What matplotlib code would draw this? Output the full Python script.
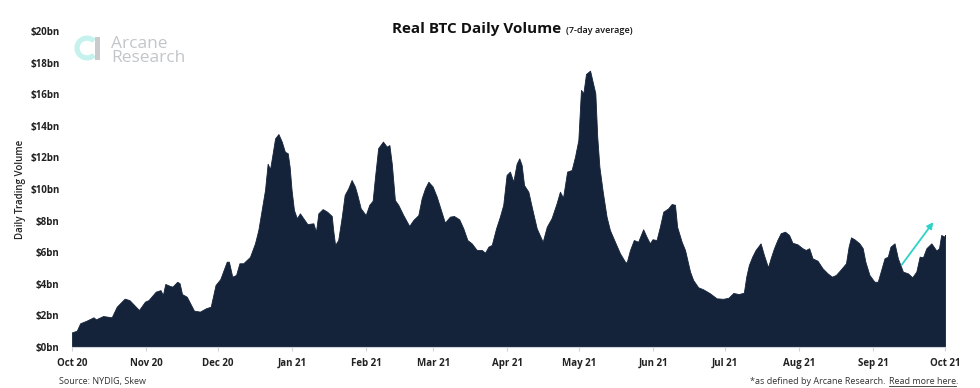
import matplotlib
matplotlib.use('Agg')
import matplotlib.pyplot as plt
import pandas as pd
from matplotlib.patches import Wedge, Rectangle
from matplotlib.lines import Line2D

# ---------------- data ----------------
start_date = '2020-10-01'
days = [0, 2, 3.4, 6, 9, 10, 13, 16.6, 18.7, 22, 24, 28, 30.5, 32, 35, 37, 38, 39, 41, 42,
        44, 45, 46, 48, 51, 53.5, 56, 58, 60, 62, 64.7, 65.6, 67, 68.6, 70, 71.6, 74.4, 76.5,
        77.9, 79.3, 80.7, 81.8, 82.8, 83.9, 84.9, 86.3, 87.7, 89, 90.2, 91, 91.8, 92.8, 94,
        95.3, 96.7, 98.4, 100.9, 102, 103, 104.8, 106.7, 108.6, 109.2, 110, 111.3, 112.8, 114,
        115.5, 116.9, 118.3, 119.3, 120.7, 122.8, 124.3, 125.7, 126.7, 128, 130, 131.6, 132.7,
        133.7, 135, 136.4, 138.5, 141, 142.7, 144.8, 146.2, 147.6, 149, 150.8, 152.5, 153.8,
        155.9, 158, 159.7, 161.9, 163.6, 165.3, 167.1, 169.2, 171.3, 172.7, 174.1, 175.5,
        177.3, 178.9, 180.3, 181.7, 183.1, 184.5, 185.9, 187, 188, 189, 190.8, 192.2, 194.3,
        196.8, 198.5, 200.5, 202.6, 204, 205.3, 207, 208.9, 210.3, 211.7, 212.8, 213.8, 214.9,
        216.6, 218, 218.8, 219.6, 220.5, 221.9, 223.5, 224.9, 227, 229.1, 231.2, 231.9, 233.3,
        234.9, 236.7, 238.8, 240.2, 241.6, 242.7, 244.4, 245.8, 247.2, 249.3, 250.7, 252.1,
        253, 254.9, 256.3, 258.4, 259.7, 261.8, 263.9, 266.7, 269.5, 272.3, 274.5, 276.5,
        278.8, 280.9, 281.9, 283, 284.4, 285.8, 287.9, 289.3, 291, 292.1, 293.5, 294.9, 296.3,
        298.1, 299.8, 301.2, 303.3, 305.4, 306.8, 308.2, 309.6, 311.7, 313.8, 315.9, 317.7,
        319.4, 321.5, 323.6, 324.7, 325.7, 327.1, 329.2, 330.6, 331.7, 333.4, 335.5, 336.9,
        338.3, 339.7, 341.1, 342.2, 343.9, 345.3, 347.4, 349.5, 351.3, 353, 354.4, 355.8,
        357.2, 359.3, 361.4, 362.5, 363.4, 364.8, 365]
volume_bn = [0.93, 1.03, 1.5, 1.66, 1.88, 1.75, 1.96, 1.88, 2.55, 3.06, 2.97, 2.34, 2.87, 2.97,
             3.5, 3.6, 3.29, 3.99, 3.86, 3.82, 4.13, 4.03, 3.35, 3.18, 2.3, 2.24, 2.45, 2.55,
             3.92, 4.3, 5.4, 5.4, 4.45, 4.56, 5.3, 5.3, 5.7, 6.56, 7.4, 8.67, 9.94, 11.6, 11.25,
             12.26, 13.2, 13.48, 13.0, 12.36, 12.26, 11.4, 9.94, 8.67, 8.15, 8.46, 8.15, 7.78,
             7.83, 7.3, 8.46, 8.73, 8.56, 8.29, 7.4, 6.46, 6.77, 8.25, 9.62, 10.04, 10.57,
             10.15, 9.62, 8.78, 8.35, 9.0, 9.26, 10.78, 12.58, 13.0, 12.68, 12.78, 11.6, 9.3,
             9.0, 8.35, 7.66, 8.04, 8.35, 9.41, 10.04, 10.46, 10.15, 9.51, 8.88, 7.87, 8.25,
             8.29, 8.08, 7.51, 6.77, 6.56, 6.14, 6.14, 5.97, 6.35, 6.46, 7.51, 8.25, 9.0, 10.89,
             11.1, 10.46, 11.6, 11.94, 11.52, 10.25, 9.83, 8.88, 7.51, 6.66, 7.61, 8.15, 9.09,
             9.83, 9.45, 11.1, 11.2, 12.04, 13.1, 16.27, 16.06, 17.28, 17.49, 16.58, 16.06,
             13.31, 11.41, 9.83, 8.25, 7.4, 6.66, 5.93, 5.4, 5.34, 6.14, 6.77, 6.66, 7.45, 6.98,
             6.56, 6.82, 6.77, 7.61, 8.56, 8.78, 9.05, 9.0, 7.61, 6.66, 6.14, 4.77, 4.24, 3.78,
             3.65, 3.4, 3.08, 3.05, 3.12, 3.42, 3.35, 3.44, 4.45, 5.19, 5.72, 6.14, 6.56, 5.82,
             5.04, 5.61, 6.25, 6.77, 7.2, 7.3, 7.09, 6.6, 6.5, 6.25, 6.14, 6.25, 5.61, 5.46,
             4.98, 4.66, 4.45, 4.56, 4.92, 5.3, 6.35, 6.94, 6.82, 6.56, 6.25, 5.4, 4.56, 4.13,
             4.13, 4.87, 5.61, 5.72, 6.35, 6.56, 5.61, 4.77, 4.66, 4.41, 4.77, 5.72, 5.68, 6.25,
             6.56, 6.1, 6.25, 7.09, 6.98, 7.09]
y_ticks = [0, 2, 4, 6, 8, 10, 12, 14, 16, 18, 20]
y_tick_labels = ['$%dbn' % v for v in y_ticks]
month_ticks = pd.date_range('2020-10-01', '2021-10-01', freq='MS')
month_labels = [d.strftime('%b %y') for d in month_ticks]
arrow_start = (346.9, 5.2)
arrow_end = (360.1, 7.9)

title_main = 'Real BTC Daily Volume'
title_sub = '(7-day average)'
y_label = 'Daily Trading Volume'
source_text = 'Source: NYDIG, Skew'

# ---------------- styling ----------------
FONT = ['Open Sans', 'DejaVu Sans']
plt.rcParams['font.family'] = FONT
FILL = '#15233a'
W, H = 980, 388

fig = plt.figure(figsize=(W / 100, H / 100), dpi=100)
ax = fig.add_axes([72 / W, 1 - 347 / H, (945 - 72) / W, (347 - 31) / H])

t0 = pd.Timestamp(start_date)
dates = t0 + pd.to_timedelta(days, unit='D')
ax.fill_between(dates, volume_bn, 0, color=FILL, lw=0.6, edgecolor=FILL)

ax.set_xlim(month_ticks[0], month_ticks[-1])
ax.set_ylim(0, 20)
ax.set_yticks(y_ticks)
ax.set_yticklabels(y_tick_labels)
ax.set_xticks(month_ticks)
ax.set_xticklabels(month_labels)
for s in ['top', 'right', 'left']:
    ax.spines[s].set_visible(False)
ax.spines['bottom'].set_color('#cfd3d8')
ax.spines['bottom'].set_linewidth(0.8)
ax.tick_params(axis='y', length=0, pad=9, labelsize=7, labelcolor='#222222')
ax.tick_params(axis='x', length=3, color='#cfd3d8', pad=5, labelsize=7, labelcolor='#222222')
for lab in ax.get_xticklabels() + ax.get_yticklabels():
    lab.set_fontweight('bold')

ax.set_ylabel(y_label, fontsize=7, fontweight='semibold', color='#222222')
ax.yaxis.set_label_coords((26 - 72) / (945 - 72), 0.5)

# arrow
ax.annotate('', xy=(t0 + pd.Timedelta(days=arrow_end[0]), arrow_end[1]),
            xytext=(t0 + pd.Timedelta(days=arrow_start[0]), arrow_start[1]),
            arrowprops=dict(arrowstyle='-|>', color='#2ed3c7', lw=1.3, mutation_scale=9,
                            shrinkA=0, shrinkB=0))

# title
fig.text(561 / W, 1 - 33 / H, title_main, ha='right', va='baseline', fontsize=11,
         fontweight='bold', color='#111111')
fig.text(566 / W, 1 - 33 / H, title_sub, ha='left', va='baseline', fontsize=6.5,
         fontweight='semibold', color='#111111')

# logo
lax = fig.add_axes([73 / W, 1 - 65 / H, 30 / W, 34 / H])
lax.set_xlim(0, 30)
lax.set_ylim(0, 34)
lax.set_aspect('equal')
lax.axis('off')
lax.add_patch(Wedge((14, 17), 12.5, 45, 315, width=5.2, color='#c5f1ef', lw=0))
lax.add_patch(Rectangle((21.5, 5.0), 5.0, 23.5, color='#c9cbcd', lw=0))
fig.text(111 / W, 1 - 47.5 / H, 'Arcane', ha='left', va='baseline', fontsize=12.5,
         fontweight='medium', color='#c3c6c9')
fig.text(111 / W, 1 - 62.5 / H, 'Research', ha='left', va='baseline', fontsize=12.5,
         fontweight='medium', color='#c3c6c9')

# footer
fig.text(59 / W, 1 - 384 / H, source_text, ha='left', va='baseline', fontsize=6.5, color='#333333')
fig.canvas.draw()
r = fig.canvas.get_renderer()
fy = 1 - 384 / H
t_dot = fig.text(958 / W, fy, '.', ha='right', va='baseline', fontsize=6.5, color='#333333')
bb = t_dot.get_window_extent(r)
t_link = fig.text(bb.x0 / W, fy, 'Read more here', ha='right', va='baseline', fontsize=6.5,
                  color='#333333')
bb2 = t_link.get_window_extent(r)
fig.add_artist(Line2D([bb2.x0 / W, bb2.x1 / W], [fy - 1.5 / H, fy - 1.5 / H], color='#333333',
                      lw=0.6, transform=fig.transFigure))
fig.text((bb2.x0 - 3) / W, fy, '*as defined by Arcane Research.', ha='right', va='baseline',
         fontsize=6.5, color='#333333')

fig.savefig('out.png', dpi=100)
